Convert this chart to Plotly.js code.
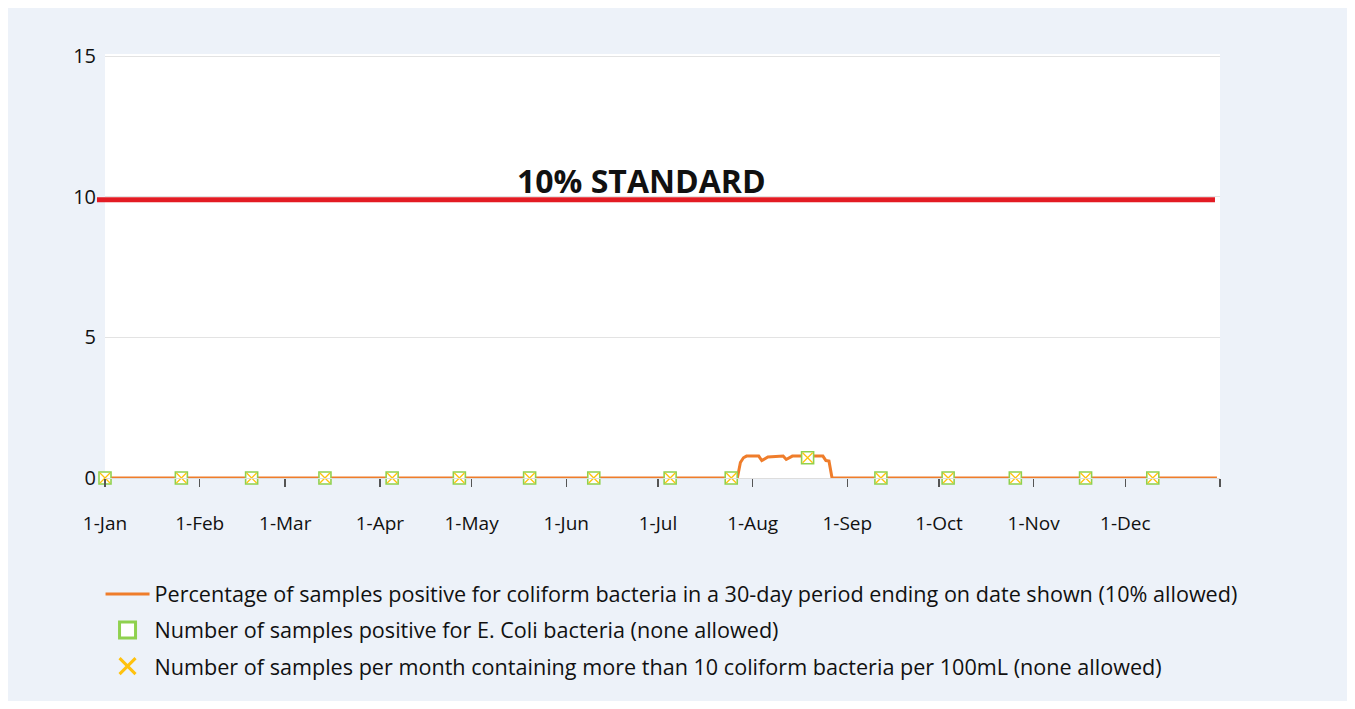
<!DOCTYPE html>
<html>
<head>
<meta charset="utf-8">
<script src="https://cdn.plot.ly/plotly-3.0.1.min.js"></script>
<style>
  body { margin: 8px; background: #ffffff; }
  #chart { width: 1339px; height: 693px; }
</style>
</head>
<body>
<div id="chart"></div>
<script>
// Percentage of samples positive for coliform (30-day window), breakpoints
const pctDates = ['2022-01-01','2022-07-27','2022-07-28','2022-07-29','2022-07-30','2022-08-03','2022-08-04','2022-08-06','2022-08-11','2022-08-12','2022-08-14','2022-08-24','2022-08-25','2022-08-26','2022-08-27','2022-12-31'];
const pctValues = [0, 0, 0.55, 0.72, 0.78, 0.78, 0.62, 0.75, 0.78, 0.66, 0.78, 0.78, 0.62, 0.6, 0, 0];

// Sampling dates (E. coli / >10 coliform counts)
const sampleDates = ['2022-01-01','2022-01-26','2022-02-18','2022-03-14','2022-04-05','2022-04-27','2022-05-20','2022-06-10','2022-07-05','2022-07-25','2022-08-19','2022-09-12','2022-10-04','2022-10-26','2022-11-18','2022-12-10'];
const ecoliValues = [0,0,0,0,0,0,0,0,0,0,0.72,0,0,0,0,0];
const coliform10Values = [0,0,0,0,0,0,0,0,0,0,0.72,0,0,0,0,0];

const standardValue = 9.9;
const standardLabel = '10% STANDARD';

const tickDates = ['2022-01-01','2022-02-01','2022-03-01','2022-04-01','2022-05-01','2022-06-01','2022-07-01','2022-08-01','2022-09-01','2022-10-01','2022-11-01','2022-12-01','2023-01-01'];
const tickLabels = ['1-Jan','1-Feb','1-Mar','1-Apr','1-May','1-Jun','1-Jul','1-Aug','1-Sep','1-Oct','1-Nov','1-Dec',''];
const yTicks = [0, 5, 10, 15];

const names = [
  'Percentage of samples positive for coliform bacteria in a 30-day period ending on date shown (10% allowed)',
  'Number of samples positive for E. Coli bacteria (none allowed)',
  'Number of samples per month containing more than 10 coliform bacteria per 100mL (none allowed)'
];

const FONT = '"Open Sans", sans-serif';
const orange = '#ef7d2b', green = '#8fd14f', yellow = '#ffc20e';

const traces = [
  {x: pctDates, y: pctValues, type: 'scatter', mode: 'lines', name: names[0],
   line: {color: orange, width: 3}, legendgroup: 'a', cliponaxis: false},
  {x: sampleDates, y: ecoliValues, type: 'scatter', mode: 'markers', name: names[1],
   marker: {symbol: 'square', size: 12, color: '#ffffff', line: {color: green, width: 1.6}},
   legendgroup: 'b', showlegend: false, cliponaxis: false},
  {x: sampleDates, y: coliform10Values, type: 'scatter', mode: 'markers', name: names[2],
   marker: {symbol: 'x-thin-open', size: 10, color: yellow, line: {color: yellow, width: 1.3}},
   legendgroup: 'c', showlegend: false, cliponaxis: false},
  // legend entries with larger symbols
  {x: [null], y: [null], type: 'scatter', mode: 'markers', name: names[1], legendgroup: 'b',
   marker: {symbol: 'square', size: 26, color: '#ffffff', line: {color: green, width: 3}}},
  {x: [null], y: [null], type: 'scatter', mode: 'markers', name: names[2], legendgroup: 'c',
   marker: {symbol: 'x-thin-open', size: 26, color: yellow, line: {color: yellow, width: 3}}}
];

const layout = {
  width: 1339, height: 693,
  paper_bgcolor: '#edf2f9', plot_bgcolor: '#ffffff',
  margin: {l: 97, r: 127, t: 46, b: 223},
  font: {family: FONT, color: '#111111', size: 19},
  showlegend: true,
  xaxis: {
    type: 'date', range: ['2022-01-01', '2023-01-01'],
    tickmode: 'array', tickvals: tickDates, ticktext: tickLabels,
    ticks: 'outside', ticklen: 8, tickwidth: 1.5, tickcolor: '#555555',
    ticklabelstandoff: 20,
    showgrid: false, zeroline: false,
    showline: true, linecolor: '#dddddd', linewidth: 1,
    tickfont: {family: FONT, size: 19, color: '#111111'}
  },
  yaxis: {
    range: [0, 15.08], tickmode: 'array', tickvals: yTicks,
    showgrid: true, gridcolor: '#e3e3e3', gridwidth: 1,
    zeroline: false, showline: false, ticks: '',
    ticklabelstandoff: 8,
    tickfont: {family: FONT, size: 20, color: '#111111'}
  },
  shapes: [
    {type: 'line', xref: 'paper', yref: 'y', x0: -0.0072, x1: 0.9955, y0: standardValue, y1: standardValue,
     line: {color: '#e31b23', width: 5}}
  ],
  annotations: [
    {xref: 'paper', yref: 'y', x: 0.4816, y: standardValue, yshift: 19, text: '<b>' + standardLabel + '</b>',
     showarrow: false, font: {family: FONT, size: 32, color: '#111111'}, xanchor: 'center', yanchor: 'middle'}
  ],
  legend: {
    x: -0.004, xanchor: 'left', y: -0.225, yanchor: 'top',
    orientation: 'v', traceorder: 'grouped', tracegroupgap: 5,
    bgcolor: 'rgba(0,0,0,0)', itemwidth: 44,
    font: {family: FONT, size: 21.6, color: '#111111'}
  }
};

Plotly.newPlot('chart', traces, layout, {displayModeBar: false, staticPlot: true});
</script>
</body>
</html>
